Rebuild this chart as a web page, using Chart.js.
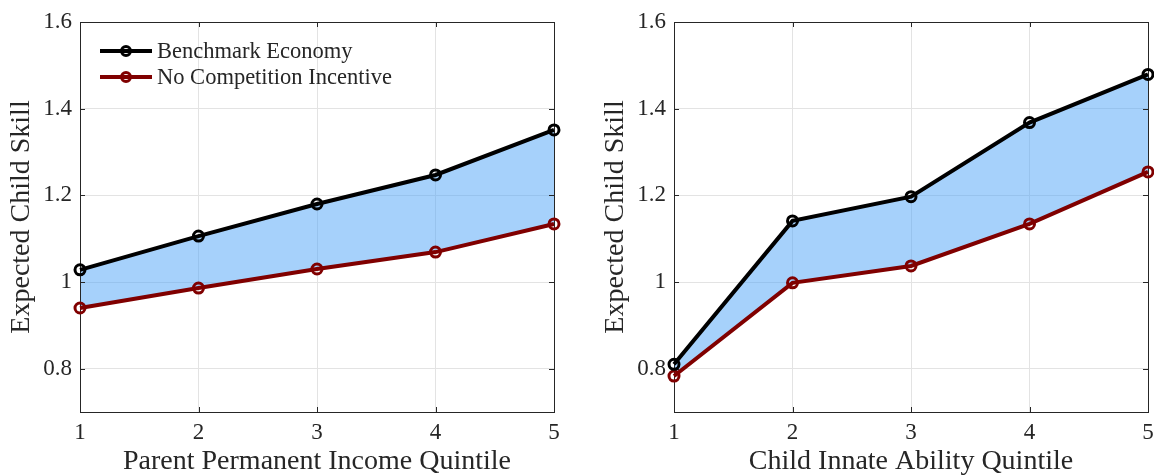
<!DOCTYPE html>
<html>
<head>
<meta charset="utf-8">
<script src="https://cdn.jsdelivr.net/npm/chart.js@4.4.0/dist/chart.umd.min.js"></script>
<style>
  html, body { margin: 0; padding: 0; background: #fff; }
  #wrap { position: relative; width: 1154px; height: 476px; overflow: hidden; }
  .panel { position: absolute; top: 0; width: 594px; height: 476px; }
  #left { left: 0; }
  #right { left: 594px; }
  .legend { position: absolute; left: 100px; top: 38px; font-family: 'Liberation Serif', serif; font-size: 22.5px; color: #262626; }
  .item { position: relative; height: 26px; line-height: 26px; padding-left: 57px; white-space: nowrap; }
  .swatch { position: absolute; left: 0; top: 11px; width: 52px; height: 4px; }
  .dot { position: absolute; left: 20px; top: -4px; width: 6px; height: 6px; border: 3px solid; border-radius: 50%; }
</style>
</head>
<body>
<div id="wrap">
  <div class="panel" id="left"><canvas id="c1" width="594" height="476"></canvas><div class="legend" id="legend"></div></div>
  <div class="panel" id="right"><canvas id="c2" width="594" height="476"></canvas></div>
</div>
<script>
// data
const quintiles = ['1', '2', '3', '4', '5'];
const yTicks = [0.8, 1.0, 1.2, 1.4, 1.6];
const incomeBenchmark = [1.028, 1.106, 1.180, 1.247, 1.351];
const incomeNoCompetition = [0.940, 0.986, 1.030, 1.069, 1.134];
const abilityBenchmark = [0.810, 1.141, 1.197, 1.368, 1.479];
const abilityNoCompetition = [0.783, 0.998, 1.037, 1.134, 1.254];
const seriesNames = ['Benchmark Economy', 'No Competition Incentive'];
const seriesColors = ['#000000', '#800000'];
const xTitles = ['Parent Permanent Income Quintile', 'Child Innate Ability Quintile'];
const yTitle = 'Expected Child Skill';

const textColor = '#262626';
const serif = "'Liberation Serif', 'DejaVu Serif', serif";

// box round the plot plus inward tick marks, MATLAB style
const framePlugin = {
  id: 'frame',
  beforeDatasetsDraw(chart) {
    const { ctx, chartArea: a, scales } = chart;
    ctx.save();
    ctx.strokeStyle = textColor;
    ctx.lineWidth = 1;
    ctx.strokeRect(Math.round(a.left) + 0.5, Math.round(a.top) + 0.5, Math.round(a.right - a.left), Math.round(a.bottom - a.top));
    ctx.beginPath();
    yTicks.forEach(v => {
      const y = Math.round(scales.y.getPixelForValue(v)) + 0.5;
      ctx.moveTo(a.left, y); ctx.lineTo(a.left + 5, y);
      ctx.moveTo(a.right, y); ctx.lineTo(a.right - 5, y);
    });
    quintiles.forEach((q, i) => {
      const x = Math.round(scales.x.getPixelForValue(i)) + 0.5;
      ctx.moveTo(x, a.bottom); ctx.lineTo(x, a.bottom - 5);
      ctx.moveTo(x, a.top); ctx.lineTo(x, a.top + 5);
    });
    ctx.stroke();
    ctx.restore();
  }
};

function makeChart(canvasId, benchmark, noComp, xTitle) {
  const ctx = document.getElementById(canvasId).getContext('2d');
  return new Chart(ctx, {
    type: 'line',
    data: {
      labels: quintiles,
      datasets: [
        {
          label: seriesNames[0],
          data: benchmark,
          borderColor: seriesColors[0],
          borderWidth: 4,
          pointRadius: 5,
          pointBorderWidth: 3,
          pointBorderColor: seriesColors[0],
          pointBackgroundColor: 'rgba(0,0,0,0)',
          fill: '+1',
          backgroundColor: 'rgba(77, 163, 247, 0.5)',
          tension: 0,
          clip: false
        },
        {
          label: seriesNames[1],
          data: noComp,
          borderColor: seriesColors[1],
          borderWidth: 4,
          pointRadius: 5,
          pointBorderWidth: 3,
          pointBorderColor: seriesColors[1],
          pointBackgroundColor: 'rgba(0,0,0,0)',
          fill: false,
          tension: 0,
          clip: false
        }
      ]
    },
    options: {
      responsive: false,
      devicePixelRatio: 1,
      animation: false,
      layout: { padding: { left: 0, right: 40, top: 22, bottom: 0 } },
      plugins: {
        legend: { display: false },
        tooltip: { enabled: false },
        filler: { drawTime: 'beforeDatasetsDraw' }
      },
      scales: {
        x: {
          type: 'category',
          offset: false,
          grid: { color: '#e3e3e3', drawTicks: false },
          border: { display: false },
          ticks: { color: textColor, font: { family: serif, size: 23 }, padding: 7, autoSkip: false, maxRotation: 0 },
          title: { display: true, text: xTitle, color: textColor, font: { family: serif, size: 28, lineHeight: 1 }, padding: { top: 0, bottom: 0 } },
          afterFit(s) { s.height = 64; }
        },
        y: {
          min: 0.7,
          max: 1.6,
          afterBuildTicks(s) { s.ticks = yTicks.map(v => ({ value: v })); },
          grid: { color: '#e3e3e3', drawTicks: false },
          border: { display: false },
          ticks: { color: textColor, font: { family: serif, size: 23 }, padding: 8, callback: v => String(v) },
          title: { display: true, text: yTitle, color: textColor, font: { family: serif, size: 28, lineHeight: 1 }, padding: { top: 8, bottom: 0 } },
          afterFit(s) { s.width = 80; }
        }
      }
    },
    plugins: [framePlugin]
  });
}

makeChart('c1', incomeBenchmark, incomeNoCompetition, xTitles[0]);
makeChart('c2', abilityBenchmark, abilityNoCompetition, xTitles[1]);

// legend inside the left plot
const legend = document.getElementById('legend');
seriesNames.forEach((name, i) => {
  const item = document.createElement('div');
  item.className = 'item';
  item.innerHTML = '<div class="swatch" style="background:' + seriesColors[i] + '"><div class="dot" style="border-color:' + seriesColors[i] + '"></div></div>' + name;
  legend.appendChild(item);
});
</script>
</body>
</html>
